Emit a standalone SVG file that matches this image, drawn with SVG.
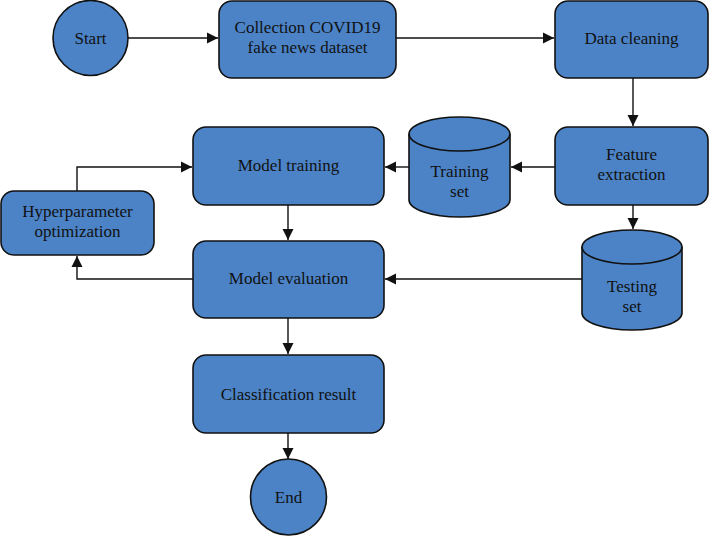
<svg xmlns="http://www.w3.org/2000/svg" width="710" height="536" viewBox="0 0 710 536">
<style>
.n{fill:#4b83c6;stroke:#111;stroke-width:1.6}
.t{font-family:"Liberation Serif","Times New Roman",serif;font-size:17px;fill:#111;text-anchor:middle}
.c{fill:none;stroke:#111;stroke-width:1.4}
</style>
<defs>
<marker id="ah" markerUnits="userSpaceOnUse" markerWidth="12" markerHeight="12" viewBox="0 0 12 12" refX="11" refY="6" orient="auto">
<path d="M0,0.5 L11,6 L0,11.5 Z" fill="#111"/>
</marker>
</defs>
<rect width="710" height="536" fill="#fff"/>
<g id="connectors">
<path class="c" d="M128,38 H218" marker-end="url(#ah)"/>
<path class="c" d="M396,38 H554" marker-end="url(#ah)"/>
<path class="c" d="M633,78 V126" marker-end="url(#ah)"/>
<path class="c" d="M555,167 H511" marker-end="url(#ah)"/>
<path class="c" d="M409,167 H385" marker-end="url(#ah)"/>
<path class="c" d="M633,205 V229" marker-end="url(#ah)"/>
<path class="c" d="M582,279 H385" marker-end="url(#ah)"/>
<path class="c" d="M288,205 V240" marker-end="url(#ah)"/>
<path class="c" d="M193,279 H77 V256" marker-end="url(#ah)"/>
<path class="c" d="M77,191 V167 H192" marker-end="url(#ah)"/>
<path class="c" d="M288,318 V354" marker-end="url(#ah)"/>
<path class="c" d="M288,433 V459" marker-end="url(#ah)"/>
</g>
<g id="start">
<circle class="n" cx="90.5" cy="38" r="37.5"/>
<text class="t" x="90.5" y="44">Start</text>
</g>
<g id="collection">
<rect class="n" x="219" y="1" width="177" height="77" rx="13"/>
<text class="t" x="307.5" y="33">Collection COVID19</text>
<text class="t" x="307.5" y="53">fake news dataset</text>
</g>
<g id="data-cleaning">
<rect class="n" x="555" y="1" width="153" height="77" rx="13"/>
<text class="t" x="631.5" y="44">Data cleaning</text>
</g>
<g id="feature-extraction">
<rect class="n" x="555" y="127" width="153" height="78" rx="13"/>
<text class="t" x="631.5" y="160">Feature</text>
<text class="t" x="631.5" y="180">extraction</text>
</g>
<g id="training-set">
<path class="n" d="M409,134 A50.5,17 0 0 1 510,134 V200 A50.5,17 0 0 1 409,200 Z"/>
<path class="c" style="stroke-width:1.6" d="M409,134 A50.5,17 0 0 0 510,134"/>
<text class="t" x="459.5" y="177">Training</text>
<text class="t" x="459.5" y="197">set</text>
</g>
<g id="model-training">
<rect class="n" x="193" y="127" width="191" height="78" rx="13"/>
<text class="t" x="288.5" y="171">Model training</text>
</g>
<g id="hyperparameter">
<rect class="n" x="1" y="191" width="153" height="64" rx="13"/>
<text class="t" x="77.5" y="217">Hyperparameter</text>
<text class="t" x="77.5" y="237">optimization</text>
</g>
<g id="model-evaluation">
<rect class="n" x="193" y="241" width="191" height="77" rx="13"/>
<text class="t" x="288.5" y="284">Model evaluation</text>
</g>
<g id="testing-set">
<path class="n" d="M582,247 A50,17 0 0 1 682,247 V313 A50,17 0 0 1 582,313 Z"/>
<path class="c" style="stroke-width:1.6" d="M582,247 A50,17 0 0 0 682,247"/>
<text class="t" x="632" y="292">Testing</text>
<text class="t" x="632" y="312">set</text>
</g>
<g id="classification">
<rect class="n" x="193" y="355" width="191" height="78" rx="13"/>
<text class="t" x="288.5" y="400">Classification result</text>
</g>
<g id="end">
<circle class="n" cx="288.5" cy="497" r="38"/>
<text class="t" x="288.5" y="503">End</text>
</g>
</svg>
